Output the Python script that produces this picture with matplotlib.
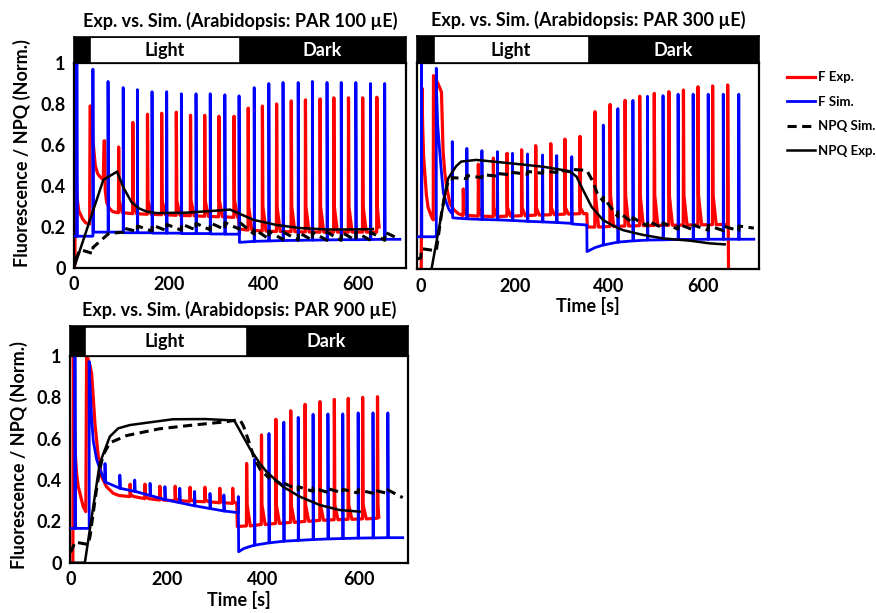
import matplotlib
matplotlib.use("Agg")
import matplotlib.pyplot as plt

plt.rcParams['font.family'] = ['Lato', 'DejaVu Sans']
plt.rcParams['font.weight'] = 'bold'

# ---- PAR 100 ----
light100 = [36, 347]
fsim100_t = [6, 40, 72, 104, 134, 165, 196, 227, 258, 288, 319, 349, 381, 412, 442, 474, 504, 535, 565, 596, 627, 657]
fsim100_peak = [1.0, 0.97, 0.91, 0.88, 0.87, 0.86, 0.86, 0.85, 0.85, 0.85, 0.845, 0.84, 0.88, 0.90, 0.905, 0.905, 0.91, 0.905, 0.905, 0.905, 0.90, 0.90]
fsim100_pre = [0.155, 0.155, 0.175, 0.175, 0.172, 0.172, 0.17, 0.17, 0.168, 0.168, 0.166, 0.165, 0.13, 0.132, 0.134, 0.135, 0.136, 0.137, 0.138, 0.138, 0.139, 0.14]
fsim100_post = [0.155, 0.175, 0.175, 0.172, 0.172, 0.17, 0.17, 0.168, 0.168, 0.166, 0.165, 0.125, 0.13, 0.132, 0.134, 0.135, 0.136, 0.137, 0.138, 0.138, 0.139, 0.14]
fsim100_kt = [0, 689]
fsim100_kv = [0.155, 0.14]

fexp100_t = [94, 124, 155, 185, 216, 246, 276, 306, 338, 368, 398, 428, 459, 489, 520, 549, 580, 610, 640]
fexp100_peak = [0.59, 0.71, 0.75, 0.755, 0.76, 0.745, 0.745, 0.74, 0.74, 0.78, 0.79, 0.80, 0.815, 0.82, 0.825, 0.83, 0.83, 0.83, 0.833]
fexp100_pre = [0.27, 0.265, 0.262, 0.26, 0.257, 0.255, 0.252, 0.25, 0.247, 0.185, 0.18, 0.178, 0.177, 0.176, 0.175, 0.175, 0.175, 0.175, 0.175]
fexp100_tail = [0.33, 0.33, 0.33, 0.33, 0.33, 0.33, 0.33, 0.33, 0.33, 0.3, 0.3, 0.3, 0.3, 0.3, 0.3, 0.3, 0.3, 0.3, 0.3]
fexp100_kt = [0, 2, 3, 4, 6, 10, 18, 25, 33, 34, 35.5, 37, 41, 45, 50, 55, 62, 63.5, 65, 66, 69, 75, 82, 92, 348, 349.5, 645]
fexp100_kv = [0, 0.02, 1.0, 0.6, 0.35, 0.28, 0.24, 0.22, 0.215, 0.79, 0.79, 0.66, 0.6, 0.5, 0.46, 0.445, 0.43, 0.62, 0.62, 0.38, 0.32, 0.29, 0.275, 0.27, 0.245, 0.19, 0.2]

npqexp100_t = [0, 62, 91, 105, 122, 138, 154, 175, 238, 290, 330, 355, 379, 428, 478, 534, 580, 632]
npqexp100_v = [0, 0.43, 0.47, 0.39, 0.32, 0.29, 0.275, 0.268, 0.27, 0.278, 0.285, 0.26, 0.235, 0.21, 0.195, 0.188, 0.188, 0.19]

npqsim100_pre = [0.07, 0.165, 0.175, 0.178, 0.18, 0.182, 0.184, 0.185, 0.186, 0.188, 0.19, 0.165, 0.142, 0.138, 0.136, 0.135, 0.135, 0.135, 0.135, 0.135, 0.135]
npqsim100_post = [0.1, 0.168, 0.195, 0.205, 0.21, 0.213, 0.215, 0.218, 0.22, 0.222, 0.225, 0.19, 0.18, 0.176, 0.175, 0.175, 0.175, 0.175, 0.175, 0.175, 0.175]
npqsim100_kt = [0, 5, 13, 38, 689]
npqsim100_kv = [0.045, 0.05, 0.09, 0.072, 0.14]

# ---- PAR 300 ----
light300 = [30, 353]
fsim300_t = [1.5, 33, 67, 98, 130, 163, 195, 227, 259, 289, 321, 388, 419, 451, 482, 515, 547, 579, 611, 643, 676]
fsim300_peak = [1.0, 0.976, 0.62, 0.587, 0.576, 0.571, 0.563, 0.56, 0.555, 0.552, 0.547, 0.70, 0.78, 0.82, 0.84, 0.843, 0.85, 0.85, 0.85, 0.85, 0.85]
fsim300_pre = [0.158, 0.158, 0.27, 0.245, 0.242, 0.24, 0.237, 0.233, 0.23, 0.227, 0.223, 0.118, 0.132, 0.138, 0.142, 0.143, 0.145, 0.145, 0.146, 0.146, 0.146]
fsim300_post = [0.158, 0.85, 0.25, 0.245, 0.242, 0.24, 0.237, 0.233, 0.23, 0.227, 0.22, 0.118, 0.132, 0.138, 0.142, 0.143, 0.145, 0.145, 0.146, 0.146, 0.146]
fsim300_kt = [-8, 36, 40, 44, 48, 55, 60, 66, 85, 353, 353.4, 370, 708]
fsim300_kv = [0.158, 0.7, 0.58, 0.47, 0.37, 0.32, 0.29, 0.272, 0.247, 0.215, 0.086, 0.105, 0.146]

fexp300_t = [90, 122, 154, 183, 214, 244, 276, 306, 338, 370, 402, 434, 465, 496, 527, 558, 589, 620, 652]
fexp300_peak = [0.39, 0.51, 0.54, 0.563, 0.58, 0.60, 0.61, 0.632, 0.645, 0.765, 0.80, 0.82, 0.84, 0.854, 0.862, 0.87, 0.886, 0.89, 0.895]
fexp300_pre = [0.262, 0.258, 0.256, 0.258, 0.26, 0.263, 0.265, 0.268, 0.27, 0.205, 0.208, 0.21, 0.212, 0.213, 0.214, 0.215, 0.216, 0.217, 0.218]
fexp300_tail = [0.3, 0.3, 0.3, 0.3, 0.3, 0.3, 0.3, 0.3, 0.3, 0.36, 0.36, 0.36, 0.36, 0.36, 0.36, 0.36, 0.36, 0.36, 0.36]
fexp300_kt = [-8, 1, 2.5, 4, 6, 8.5, 12, 15.6, 22.7, 26.5, 27, 30, 37, 44, 47.5, 51, 55, 62, 70, 80, 88, 353, 354, 653.5, 654.2]
fexp300_kv = [0, 0, 0.88, 0.7, 0.55, 0.47, 0.36, 0.30, 0.256, 0.24, 0.94, 0.93, 0.9, 0.86, 0.57, 0.47, 0.40, 0.32, 0.29, 0.27, 0.262, 0.27, 0.205, 0.25, 0.0]

npqexp300_t = [-8, 22.7, 58, 75, 86, 118, 189, 260, 302, 320, 331, 345, 363, 387, 410, 430, 472, 515, 572, 614, 646]
npqexp300_v = [0, 0, 0.44, 0.5, 0.523, 0.531, 0.515, 0.498, 0.482, 0.47, 0.45, 0.385, 0.304, 0.24, 0.21, 0.19, 0.167, 0.15, 0.139, 0.126, 0.121]

npqsim300_pre = [0.43, 0.44, 0.445, 0.452, 0.458, 0.462, 0.466, 0.47, 0.474, 0.33, 0.255, 0.225, 0.21, 0.2, 0.195, 0.192, 0.19, 0.188, 0.187]
npqsim300_post = [0.445, 0.455, 0.46, 0.465, 0.47, 0.475, 0.478, 0.482, 0.485, 0.35, 0.28, 0.25, 0.235, 0.225, 0.22, 0.215, 0.213, 0.21, 0.21]
npqsim300_kt = [-8, 0, 1.5, 33, 38, 44, 50, 58, 353, 365, 375, 708]
npqsim300_kv = [0.05, 0.055, 0.1, 0.09, 0.17, 0.27, 0.35, 0.425, 0.48, 0.43, 0.37, 0.2]

# ---- PAR 900 ----
light900 = [31, 362]
fsim900_t = [8.3, 38, 71, 102, 133, 165, 196, 227, 258, 290, 319, 349, 383, 413, 444, 474, 505, 536, 567, 599, 630, 661]
fsim900_peak = [1.0, 0.973, 0.48, 0.424, 0.40, 0.384, 0.368, 0.36, 0.345, 0.335, 0.328, 0.32, 0.5, 0.625, 0.68, 0.703, 0.718, 0.72, 0.72, 0.725, 0.725, 0.725]
fsim900_pre = [0.166, 0.166, 0.39, 0.36, 0.345, 0.325, 0.305, 0.29, 0.275, 0.262, 0.25, 0.242, 0.085, 0.096, 0.104, 0.108, 0.112, 0.115, 0.117, 0.119, 0.12, 0.121]
fsim900_post = [0.166, 0.9, 0.39, 0.36, 0.345, 0.325, 0.305, 0.29, 0.275, 0.262, 0.25, 0.053, 0.085, 0.096, 0.104, 0.108, 0.112, 0.115, 0.117, 0.119, 0.12, 0.121]
fsim900_kt = [-2, 43, 46.5, 53.5, 60, 66, 360, 370, 692]
fsim900_kv = [0.166, 0.7, 0.59, 0.5, 0.455, 0.42, 0.068, 0.076, 0.121]

fexp900_t = [123, 154, 185, 217, 248, 279, 310, 337, 366, 397, 427, 458, 488, 519, 549, 578, 608, 639]
fexp900_peak = [0.38, 0.38, 0.37, 0.37, 0.365, 0.365, 0.36, 0.36, 0.48, 0.618, 0.694, 0.735, 0.766, 0.779, 0.79, 0.795, 0.80, 0.803]
fexp900_pre = [0.32, 0.31, 0.303, 0.3, 0.297, 0.295, 0.29, 0.287, 0.178, 0.185, 0.19, 0.195, 0.2, 0.205, 0.208, 0.21, 0.212, 0.215]
fexp900_tail = [0.33, 0.32, 0.313, 0.31, 0.307, 0.305, 0.3, 0.297, 0.28, 0.28, 0.28, 0.28, 0.28, 0.28, 0.28, 0.28, 0.28, 0.28]
fexp900_kt = [-2, 4, 5, 6, 8.3, 11.8, 15, 18.75, 25.7, 31, 32.6, 35, 40, 43, 46.5, 50, 57, 64, 74, 88, 100, 346, 347, 642]
fexp900_kv = [0, 0, 1.0, 0.8, 0.55, 0.43, 0.37, 0.336, 0.27, 0.247, 1.0, 0.99, 0.95, 0.916, 0.8, 0.674, 0.513, 0.416, 0.368, 0.336, 0.325, 0.285, 0.175, 0.22]

npqexp900_t = [-2, 29, 60, 81, 98.5, 123, 158, 213, 280, 324, 338, 342, 373, 394, 408, 442, 477, 519, 560, 602]
npqexp900_v = [0, 0, 0.48, 0.61, 0.65, 0.666, 0.677, 0.694, 0.695, 0.69, 0.688, 0.682, 0.553, 0.48, 0.44, 0.368, 0.32, 0.279, 0.255, 0.247]

npqsim900_pre = [0.41, 0.37, 0.352, 0.345, 0.34, 0.338, 0.337, 0.336, 0.335]
npqsim900_post = [0.42, 0.385, 0.368, 0.362, 0.358, 0.355, 0.353, 0.352, 0.352]
npqsim900_kt = [-2, 1.4, 8.3, 36, 40, 47, 53, 60, 67, 81, 116, 185, 255, 324, 345, 353, 360, 369, 383, 395, 692]
npqsim900_kv = [0.05, 0.06, 0.1, 0.088, 0.13, 0.25, 0.35, 0.45, 0.52, 0.58, 0.615, 0.648, 0.666, 0.682, 0.69, 0.69, 0.66, 0.6, 0.5, 0.45, 0.315]

x_ticks = [0, 200, 400, 600]
y_ticks = [0, 0.2, 0.4, 0.6, 0.8, 1]
y_ticklabels = ['0', '0.2', '0.4', '0.6', '0.8', '1']


def sim_trace(t, pre, peak, post, kt, kv):
    # pulses as vertical spikes, extra knots merged in by time (stable sort)
    pts = []
    for i, ti in enumerate(t):
        if peak is None:
            pts += [(ti, pre[i]), (ti + 0.01, post[i])]
        else:
            pts += [(ti, pre[i]), (ti, peak[i]), (ti + 0.8, post[i])]
    pts += list(zip(kt, kv))
    pts.sort(key=lambda p: p[0])
    return [p[0] for p in pts], [p[1] for p in pts]


def exp_trace(t, pre, peak, tail, kt, kv):
    pts = []
    for i, ti in enumerate(t):
        pts += [(ti, pre[i]), (ti + 0.4, peak[i]), (ti + 1.4, tail[i])]
        if i + 1 < len(t):
            pts.append((ti + 8, pre[i]))
    pts += list(zip(kt, kv))
    pts.sort(key=lambda p: p[0])
    return [p[0] for p in pts], [p[1] for p in pts]


fig = plt.figure(figsize=(8.76, 6.13), dpi=100)
W, H = 876.0, 613.0


def panel(box, head_top, xlim, light, title, data, ylabels, xlabel):
    l, t, r, b = box
    ax = fig.add_axes([l / W, 1 - b / H, (r - l) / W, (b - t) / H])
    hx = fig.add_axes([l / W, 1 - t / H, (r - l) / W, (t - head_top) / H])

    fx, fy = exp_trace(*data['fexp'])
    sx, sy = sim_trace(*data['fsim'])
    nx, ny = sim_trace(*data['npqsim'])
    line_fexp, = ax.plot(fx, fy, color='#ff0000', lw=2.3, zorder=2, label='F Exp.')
    line_fsim, = ax.plot(sx, sy, color='#0000ff', lw=2.0, zorder=3, label='F Sim.')
    line_nsim, = ax.plot(nx, ny, color='black', lw=2.2, ls=(0, (3, 1.8)), zorder=4, label='NPQ Sim.')
    line_nexp, = ax.plot(data['npqexp'][0], data['npqexp'][1], color='black', lw=1.8, zorder=5, label='NPQ Exp.')

    ax.set_xlim(xlim)
    ax.set_ylim(0, 1)
    ax.set_xticks(x_ticks)
    ax.set_yticks(y_ticks)
    if ylabels:
        ax.set_yticklabels(y_ticklabels)
    else:
        ax.set_yticklabels([])
    ax.tick_params(length=0, labelsize=13, pad=6)
    for s in ax.spines.values():
        s.set_linewidth(1.6)
    if xlabel:
        ax.set_xlabel('Time [s]', fontsize=13, fontweight='bold', labelpad=2)

    # light / dark bar
    hx.set_facecolor('black')
    hx.set_xlim(xlim)
    hx.set_ylim(0, 1)
    hx.axvspan(light[0], light[1], ymin=0.05, ymax=0.95, color='white')
    hx.text((light[0] + light[1]) / 2, 0.48, 'Light', ha='center', va='center', fontsize=13, fontweight='bold', color='black')
    hx.text((light[1] + xlim[1]) / 2, 0.48, 'Dark', ha='center', va='center', fontsize=13, fontweight='bold', color='white')
    hx.set_xticks([])
    hx.set_yticks([])
    for s in hx.spines.values():
        s.set_linewidth(1.2)

    fig.text((l + r) / 2 / W, 1 - (head_top - 16) / H, title, ha='center', va='center', fontsize=13, fontweight='bold')
    return ax, [line_fexp, line_fsim, line_nsim, line_nexp]


d100 = {
    'fexp': (fexp100_t, fexp100_pre, fexp100_peak, fexp100_tail, fexp100_kt, fexp100_kv),
    'fsim': (fsim100_t, fsim100_pre, fsim100_peak, fsim100_post, fsim100_kt, fsim100_kv),
    'npqsim': (fsim100_t[1:], npqsim100_pre, None, npqsim100_post, npqsim100_kt, npqsim100_kv),
    'npqexp': (npqexp100_t, npqexp100_v),
}
d300 = {
    'fexp': (fexp300_t, fexp300_pre, fexp300_peak, fexp300_tail, fexp300_kt, fexp300_kv),
    'fsim': (fsim300_t, fsim300_pre, fsim300_peak, fsim300_post, fsim300_kt, fsim300_kv),
    'npqsim': (fsim300_t[2:], npqsim300_pre, None, npqsim300_post, npqsim300_kt, npqsim300_kv),
    'npqexp': (npqexp300_t, npqexp300_v),
}
d900 = {
    'fexp': (fexp900_t, fexp900_pre, fexp900_peak, fexp900_tail, fexp900_kt, fexp900_kv),
    'fsim': (fsim900_t, fsim900_pre, fsim900_peak, fsim900_post, fsim900_kt, fsim900_kv),
    'npqsim': (fsim900_t[13:], npqsim900_pre, None, npqsim900_post, npqsim900_kt, npqsim900_kv),
    'npqexp': (npqexp900_t, npqexp900_v),
}

ax1, handles = panel((74, 63, 406, 268), 37, (0, 702), light100,
                     'Exp. vs. Sim. (Arabidopsis: PAR 100 \u00b5E)', d100, True, False)
ax2, _ = panel((417, 63.3, 759, 269.3), 36, (-8, 719), light300,
               'Exp. vs. Sim. (Arabidopsis: PAR 300 \u00b5E)', d300, False, True)
ax3, _ = panel((70, 356, 408, 562.7), 326, (-2, 703), light900,
               'Exp. vs. Sim. (Arabidopsis: PAR 900 \u00b5E)', d900, True, True)

fig.text(22 / W, 1 - 153 / H, 'Fluorescence / NPQ (Norm.)', rotation=90, ha='center', va='center', fontsize=13, fontweight='bold')
fig.text(19 / W, 1 - 455 / H, 'Fluorescence / NPQ (Norm.)', rotation=90, ha='center', va='center', fontsize=13, fontweight='bold')

fig.legend(handles, [h.get_label() for h in handles], loc='upper left', bbox_to_anchor=(782 / W, 1 - 66 / H),
           frameon=False, fontsize=9.5, handlelength=2.1, handletextpad=0.25, labelspacing=0.95, borderaxespad=0)

fig.savefig('out.png', dpi=100)
